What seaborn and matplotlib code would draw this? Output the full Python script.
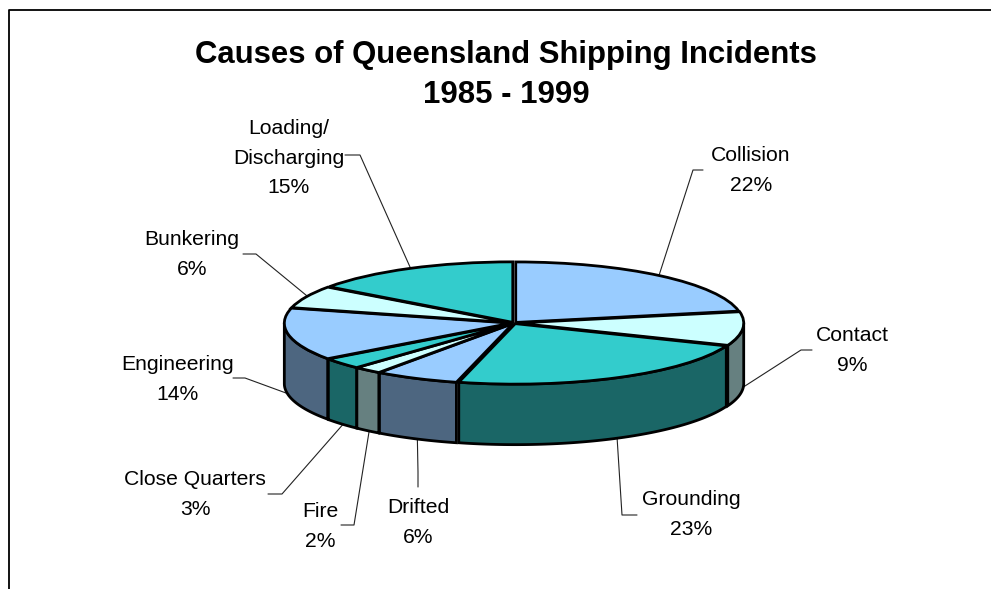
import matplotlib
matplotlib.use("Agg")
import matplotlib.pyplot as plt
from matplotlib.lines import Line2D
import numpy as np
import seaborn as sns

# Data
names = ["Collision", "Contact", "Grounding", "Drifted", "Fire", "Close Quarters",
         "Engineering", "Bunkering", "Loading/\nDischarging"]
values = [22, 9, 23, 6, 2, 3, 14, 6, 15]

top_colors = ["#99CCFF", "#CCFFFF", "#33CCCC"] * 3
side_colors = ["#4D6680", "#668080", "#1A6666"] * 3

# Layout in reference pixels
W, H = 991, 589
CX, CY, RX, RY = 514, 323, 227, 60.5
label_pos = [(751, 170.5), (852, 350.5), (691, 514.5), (418, 522.5), (320, 526.5),
             (195, 494.5), (178, 379.5), (192, 254.5), (289, 158)]
elbows = [[(693, 170), (703, 170)], [(801, 350), (812, 350)], [(622, 515), (637, 515)],
          [(418, 472), (418, 487)], [(354, 525), (341, 525)], [(282, 494), (268, 494)],
          [(245, 378), (233, 378)], [(256, 254), (243, 254)], [(360, 155), (345, 155)]]
depth = 1.0


def px(x, y):
    return (x - CX) / RX, (CY - y) / RY


sns.set_theme(style="white")
plt.rcParams["font.family"] = ["Liberation Sans", "DejaVu Sans"]

fig = plt.figure(figsize=(W / 100, H / 100), dpi=100)
ax = fig.add_axes([0, 0, 1, 1])

wedges, _ = ax.pie(
    values,
    colors=sns.color_palette(top_colors),
    startangle=90,
    counterclock=False,
    explode=[0.012] * len(values),
    wedgeprops={"edgecolor": "black", "linewidth": 2},
)
ax.set_aspect("auto")
ax.set_xlim(px(0, 0)[0], px(W, 0)[0])
ax.set_ylim(px(0, H)[1], px(0, 0)[1])
ax.axis("off")

# Side walls of the front half of the disc
for w, col in zip(wedges, side_colors):
    t1, t2 = max(w.theta1, -180), min(w.theta2, 0)
    if t1 >= t2:
        continue
    t = np.radians(np.linspace(t1, t2, 80))
    xs = w.center[0] + np.cos(t)
    ys = w.center[1] + np.sin(t)
    ax.fill(np.r_[xs, xs[::-1]], np.r_[ys, ys[::-1] - depth],
            facecolor=col, edgecolor="black", linewidth=2, zorder=0.5)

# Labels and leader lines
for w, name, val, pos, elbow in zip(wedges, names, values, label_pos, elbows):
    mid = np.radians((w.theta1 + w.theta2) / 2)
    x0, y0 = np.cos(mid), np.sin(mid)
    if -180 < np.degrees(mid) < 0:
        y0 -= depth
    ex, ey = zip(*[px(*p) for p in elbow])
    ax.plot([x0, *ex], [y0, *ey], color="#222222", lw=0.8, zorder=0.4)
    tx, ty = px(*pos)
    ax.text(tx, ty, f"{name}\n{val}%", ha="center", va="center", fontsize=15.2,
            linespacing=1.67, color="black")

ax.text(*px(506, 75), "Causes of Queensland Shipping Incidents\n1985 - 1999",
        ha="center", va="center", fontsize=22.4, fontweight="bold", linespacing=1.45, color="black")

# Chart frame: only top and left edges fall inside the picture
fig.add_artist(Line2D([9 / W, 9 / W, 1], [0, 1 - 10 / H, 1 - 10 / H], color="black", lw=1.3))

fig.savefig("out.png", dpi=100)
